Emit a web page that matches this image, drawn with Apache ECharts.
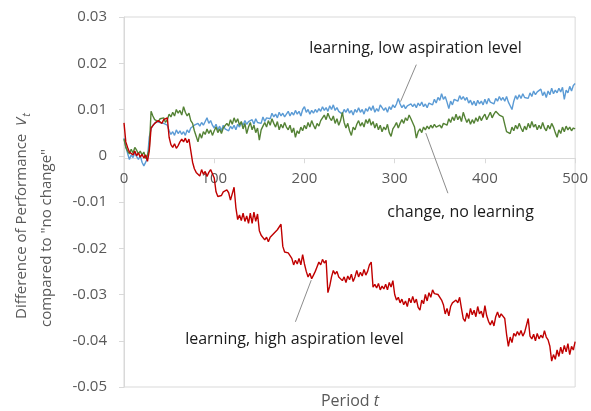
<!DOCTYPE html>
<html><head><meta charset="utf-8">
<script src="https://cdn.jsdelivr.net/npm/echarts@6/dist/echarts.min.js"></script>
<style>html,body{margin:0;padding:0;background:#fff}#c{width:591px;height:411px}</style>
</head><body><div id="c"></div>
<script>
// Period step between stored values
const periodStep = 2;
const xTicks = [0, 100, 200, 300, 400, 500];
const yTickValues = [0.03, 0.02, 0.01, 0, -0.01, -0.02, -0.03, -0.04, -0.05];

const seriesNames = ['learning, low aspiration level', 'change, no learning', 'learning, high aspiration level'];

// learning, low aspiration level (blue)
const lowAspiration = [
0.0038,0.0020,0.0005,-0.0008,0.0002,-0.0004,0.0006,-0.0002,-0.0008,0.0000,
-0.0014,-0.0022,-0.0020,-0.0006,0.0040,0.0058,0.0066,0.0070,0.0074,0.0070,
0.0072,0.0076,0.0070,0.0074,0.0066,0.0054,0.0046,0.0052,0.0044,0.0056,
0.0048,0.0054,0.0046,0.0052,0.0044,0.0056,0.0050,0.0060,0.0056,0.0066,
0.0062,0.0070,0.0064,0.0072,0.0066,0.0074,0.0082,0.0070,0.0076,0.0066,
0.0060,0.0068,0.0056,0.0064,0.0054,0.0066,0.0058,0.0062,0.0054,0.0064,
0.0058,0.0066,0.0056,0.0068,0.0062,0.0072,0.0066,0.0076,0.0068,0.0074,
0.0070,0.0078,0.0068,0.0080,0.0072,0.0076,0.0070,0.0084,0.0074,0.0082,
0.0086,0.0080,0.0092,0.0084,0.0090,0.0082,0.0094,0.0086,0.0092,0.0084,
0.0090,0.0096,0.0086,0.0094,0.0088,0.0098,0.0090,0.0096,0.0086,0.0100,
0.0106,0.0094,0.0100,0.0090,0.0098,0.0092,0.0100,0.0094,0.0102,0.0096,
0.0106,0.0098,0.0104,0.0096,0.0108,0.0100,0.0110,0.0098,0.0104,0.0096,
0.0098,0.0090,0.0100,0.0094,0.0102,0.0092,0.0098,0.0088,0.0100,0.0094,
0.0104,0.0094,0.0100,0.0090,0.0102,0.0096,0.0106,0.0098,0.0108,0.0094,
0.0102,0.0096,0.0110,0.0114,0.0098,0.0104,0.0094,0.0106,0.0100,0.0110,
0.0104,0.0112,0.0124,0.0112,0.0104,0.0110,0.0102,0.0108,0.0104,0.0112,
0.0106,0.0112,0.0104,0.0114,0.0108,0.0116,0.0106,0.0112,0.0104,0.0114,
0.0118,0.0110,0.0122,0.0114,0.0126,0.0120,0.0134,0.0122,0.0128,0.0116,
0.0102,0.0118,0.0110,0.0122,0.0126,0.0118,0.0130,0.0122,0.0128,0.0120,
0.0126,0.0114,0.0120,0.0110,0.0118,0.0108,0.0120,0.0112,0.0118,0.0110,
0.0122,0.0112,0.0124,0.0116,0.0120,0.0112,0.0124,0.0118,0.0128,0.0120,
0.0126,0.0118,0.0128,0.0116,0.0108,0.0100,0.0118,0.0130,0.0122,0.0132,
0.0124,0.0134,0.0126,0.0130,0.0124,0.0136,0.0128,0.0140,0.0132,0.0138,
0.0134,0.0144,0.0130,0.0138,0.0126,0.0140,0.0132,0.0146,0.0134,0.0142,
0.0136,0.0146,0.0138,0.0148,0.0122,0.0142,0.0136,0.0150,0.0140,0.0152,
0.0156
];

// change, no learning (green)
const noLearning = [
0.0036,0.0018,0.0010,0.0004,0.0014,0.0006,0.0018,0.0012,0.0004,0.0010,
0.0002,0.0008,-0.0006,0.0002,0.0014,0.0096,0.0086,0.0078,0.0082,0.0074,
0.0080,0.0076,0.0082,0.0072,0.0078,0.0090,0.0084,0.0094,0.0086,0.0100,
0.0092,0.0098,0.0088,0.0106,0.0094,0.0086,0.0092,0.0076,0.0070,0.0054,
0.0042,0.0030,0.0048,0.0038,0.0052,0.0046,0.0058,0.0048,0.0056,0.0044,
0.0054,0.0062,0.0050,0.0058,0.0048,0.0060,0.0056,0.0070,0.0064,0.0078,
0.0068,0.0082,0.0072,0.0080,0.0066,0.0074,0.0058,0.0070,0.0048,0.0062,
0.0072,0.0056,0.0066,0.0050,0.0060,0.0034,0.0056,0.0064,0.0072,0.0062,
0.0076,0.0066,0.0080,0.0070,0.0062,0.0074,0.0056,0.0068,0.0060,0.0072,
0.0062,0.0056,0.0066,0.0050,0.0060,0.0040,0.0054,0.0048,0.0062,0.0054,
0.0066,0.0058,0.0072,0.0062,0.0076,0.0066,0.0058,0.0070,0.0064,0.0076,
0.0080,0.0088,0.0078,0.0092,0.0082,0.0076,0.0086,0.0070,0.0080,0.0066,
0.0076,0.0094,0.0072,0.0060,0.0070,0.0054,0.0044,0.0062,0.0056,0.0068,
0.0076,0.0064,0.0072,0.0062,0.0078,0.0070,0.0080,0.0066,0.0074,0.0060,
0.0070,0.0056,0.0066,0.0052,0.0062,0.0056,0.0068,0.0050,0.0042,0.0058,
0.0064,0.0072,0.0060,0.0070,0.0078,0.0070,0.0082,0.0076,0.0088,0.0080,
0.0084,0.0062,0.0038,0.0052,0.0058,0.0050,0.0062,0.0056,0.0064,0.0058,
0.0066,0.0060,0.0068,0.0062,0.0058,0.0066,0.0060,0.0070,0.0074,0.0066,
0.0080,0.0072,0.0084,0.0076,0.0090,0.0078,0.0086,0.0074,0.0094,0.0082,
0.0072,0.0080,0.0068,0.0078,0.0070,0.0082,0.0074,0.0086,0.0076,0.0084,
0.0090,0.0078,0.0086,0.0094,0.0082,0.0090,0.0096,0.0100,0.0088,0.0092,
0.0084,0.0068,0.0052,0.0056,0.0048,0.0062,0.0054,0.0066,0.0058,0.0070,
0.0060,0.0052,0.0064,0.0056,0.0070,0.0060,0.0074,0.0062,0.0068,0.0056,
0.0066,0.0058,0.0072,0.0060,0.0054,0.0066,0.0058,0.0070,0.0062,0.0050,
0.0040,0.0056,0.0048,0.0062,0.0052,0.0064,0.0056,0.0062,0.0054,0.0060,
0.0058
];

// learning, high aspiration level (red)
const highAspiration = [
0.0071,0.0030,0.0018,0.0008,0.0012,0.0002,0.0010,0.0000,0.0006,-0.0003,
0.0003,-0.0005,0.0002,-0.0012,0.0010,0.0060,0.0064,0.0070,0.0072,0.0076,
0.0075,0.0070,0.0078,0.0076,0.0082,0.0040,0.0024,0.0018,0.0026,0.0016,
0.0022,0.0030,0.0036,0.0030,0.0038,0.0028,0.0036,0.0038,-0.0014,-0.0028,
-0.0036,-0.0032,-0.0044,-0.0030,-0.0040,-0.0034,-0.0045,-0.0036,-0.0030,-0.0026,
-0.0048,-0.0078,-0.0088,-0.0084,-0.0086,-0.0078,-0.0082,-0.0074,-0.0080,-0.0096,
-0.0100,-0.0068,-0.0112,-0.0138,-0.0128,-0.0140,-0.0124,-0.0142,-0.0130,-0.0146,
-0.0124,-0.0146,-0.0122,-0.0142,-0.0126,-0.0162,-0.0172,-0.0168,-0.0182,-0.0176,
-0.0186,-0.0176,-0.0180,-0.0168,-0.0172,-0.0160,-0.0164,-0.0148,-0.0196,-0.0208,
-0.0204,-0.0210,-0.0216,-0.0222,-0.0236,-0.0226,-0.0234,-0.0222,-0.0236,-0.0214,
-0.0234,-0.0250,-0.0262,-0.0254,-0.0266,-0.0258,-0.0250,-0.0240,-0.0230,-0.0236,
-0.0224,-0.0232,-0.0226,-0.0296,-0.0282,-0.0262,-0.0248,-0.0256,-0.0250,-0.0262,
-0.0258,-0.0270,-0.0262,-0.0274,-0.0260,-0.0268,-0.0256,-0.0272,-0.0262,-0.0248,
-0.0262,-0.0252,-0.0260,-0.0246,-0.0258,-0.0250,-0.0236,-0.0230,-0.0284,-0.0278,
-0.0286,-0.0276,-0.0290,-0.0282,-0.0288,-0.0278,-0.0290,-0.0274,-0.0284,-0.0270,
-0.0300,-0.0312,-0.0306,-0.0318,-0.0310,-0.0322,-0.0314,-0.0326,-0.0308,-0.0318,
-0.0304,-0.0318,-0.0310,-0.0328,-0.0334,-0.0312,-0.0320,-0.0300,-0.0314,-0.0296,
-0.0306,-0.0290,-0.0298,-0.0296,-0.0300,-0.0300,-0.0312,-0.0322,-0.0342,-0.0330,
-0.0346,-0.0326,-0.0318,-0.0322,-0.0312,-0.0318,-0.0306,-0.0330,-0.0352,-0.0358,
-0.0340,-0.0352,-0.0330,-0.0344,-0.0334,-0.0348,-0.0326,-0.0342,-0.0336,-0.0350,
-0.0324,-0.0346,-0.0358,-0.0366,-0.0356,-0.0368,-0.0348,-0.0338,-0.0350,-0.0342,
-0.0346,-0.0352,-0.0386,-0.0412,-0.0392,-0.0404,-0.0384,-0.0390,-0.0380,-0.0388,
-0.0378,-0.0390,-0.0382,-0.0386,-0.0352,-0.0390,-0.0396,-0.0386,-0.0400,-0.0384,
-0.0396,-0.0388,-0.0394,-0.0378,-0.0392,-0.0398,-0.0412,-0.0444,-0.0430,-0.0440,
-0.0420,-0.0434,-0.0414,-0.0428,-0.0410,-0.0424,-0.0406,-0.0430,-0.0412,-0.0420,
-0.0402
];

// Annotations in data coordinates: label position and leader line [from, to]
const annotations = [
  { text: 'learning, low aspiration level', at: [323, 0.0233], from: [324, 0.0197], to: [306.5, 0.0117] },
  { text: 'change, no learning', at: [373, -0.0122], from: [359, -0.0081], to: [334.5, 0.0049] },
  { text: 'learning, high aspiration level', at: [189, -0.0398], from: [190, -0.0359], to: [207.5, -0.0269] }
];

const colors = ['#5B9BD5', '#548235', '#C00000'];
const FONT = '"Open Sans", "Liberation Sans", sans-serif';

function toPairs(arr) { return arr.map((v, i) => [i * periodStep, v]); }

const chart = echarts.init(document.getElementById('c'), null, { renderer: 'canvas' });
const allSeries = [lowAspiration, noLearning, highAspiration];

const xAxisOpt = {
  type: 'value', min: xTicks[0], max: xTicks[xTicks.length - 1], interval: 100,
  axisLine: { show: true, onZero: false, lineStyle: { color: '#d9d9d9', width: 1 } },
  axisTick: { show: true, inside: false, length: 5, lineStyle: { color: '#d9d9d9' } },
  axisLabel: { color: '#595959', fontSize: 15, fontFamily: FONT, margin: 13, showMinLabel: true, showMaxLabel: true },
  splitLine: { show: false },
  offset: 0
};

chart.setOption({
  animation: false,
  backgroundColor: '#ffffff',
  grid: { left: 124, right: 14, top: 17, bottom: 24, show: true, borderColor: '#d9d9d9', borderWidth: 1, containLabel: false },
  xAxis: xAxisOpt,
  yAxis: {
    type: 'value', min: yTickValues[yTickValues.length - 1], max: yTickValues[0], interval: 0.01,
    axisLine: { show: true, lineStyle: { color: '#d9d9d9', width: 1 } },
    axisTick: { show: true, inside: false, length: 5, lineStyle: { color: '#d9d9d9' } },
    axisLabel: { color: '#595959', fontSize: 15, fontFamily: FONT, margin: 17,
      formatter: v => Math.abs(v) < 1e-9 ? '0' : v.toFixed(2) },
    splitLine: { show: false }
  },
  series: allSeries.map((arr, i) => ({
    name: seriesNames[i], type: 'line', data: toPairs(arr), showSymbol: false, symbol: 'none',
    lineStyle: { color: colors[i], width: 1.4 }, z: 2 + i, silent: true
  }))
});

// move the x axis (line, ticks, labels) up to the zero line
const zeroY = chart.convertToPixel({ yAxisIndex: 0 }, 0);
const bottomY = chart.convertToPixel({ yAxisIndex: 0 }, yTickValues[yTickValues.length - 1]);
xAxisOpt.offset = -(bottomY - zeroY);
chart.setOption({ xAxis: xAxisOpt });

const g = [];
annotations.forEach(a => {
  const p = chart.convertToPixel({ gridIndex: 0 }, a.at);
  const f = chart.convertToPixel({ gridIndex: 0 }, a.from);
  const t = chart.convertToPixel({ gridIndex: 0 }, a.to);
  g.push({ type: 'line', shape: { x1: f[0], y1: f[1], x2: t[0], y2: t[1] }, style: { stroke: '#8c8c8c', lineWidth: 1 }, z: 10 });
  g.push({ type: 'text', style: { text: a.text, x: p[0], y: p[1], align: 'center', verticalAlign: 'middle', fill: '#1a1a1a', font: '16px ' + FONT }, z: 10 });
});
g.push({ type: 'text', x: 22, y: 216, rotation: Math.PI / 2,
  style: { text: 'Difference of Performance  {v|V}{s|t}', align: 'center', verticalAlign: 'middle', fill: '#595959', font: '15px ' + FONT,
    rich: { v: { fontSize: 15, fontFamily: FONT, fill: '#595959', fontStyle: 'italic' }, s: { fontSize: 11, fontFamily: FONT, fill: '#595959', fontStyle: 'italic', padding: [9, 0, 0, 1] } } } });
g.push({ type: 'text', x: 47, y: 238, rotation: Math.PI / 2,
  style: { text: 'compared to "no change"', align: 'center', verticalAlign: 'middle', fill: '#595959', font: '15px ' + FONT } });
g.push({ type: 'text', x: 350, y: 401,
  style: { text: 'Period {i|t}', align: 'center', verticalAlign: 'middle', fill: '#595959', font: '16px ' + FONT,
    rich: { i: { fontSize: 16, fontFamily: FONT, fill: '#595959', fontStyle: 'italic' } } } });
chart.setOption({ graphic: g });
</script>
</body></html>
